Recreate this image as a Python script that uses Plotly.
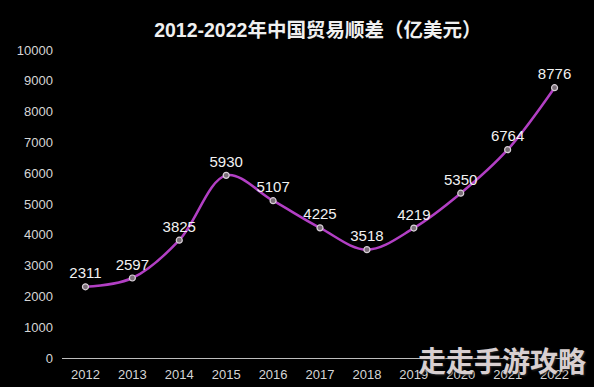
import plotly.graph_objects as go

years = ["2012", "2013", "2014", "2015", "2016", "2017", "2018", "2019", "2020", "2021", "2022"]
surplus = [2311, 2597, 3825, 5930, 5107, 4225, 3518, 4219, 5350, 6764, 8776]
y_ticks = [0, 1000, 2000, 3000, 4000, 5000, 6000, 7000, 8000, 9000, 10000]
title_text = "2012-2022年中国贸易顺差（亿美元）"
watermark = "走走手游攻略"

fig = go.Figure()
fig.add_trace(go.Scatter(
    x=years, y=surplus, mode="lines+markers+text",
    line=dict(color="#b23fc4", width=2.5, shape="spline", smoothing=1.0),
    marker=dict(size=6, color="#7a6f78", line=dict(color="#d8d0d8", width=1.2)),
    text=[str(v) for v in surplus], textposition="top center",
    textfont=dict(color="#f2f2f2", size=15, family="Liberation Sans, Arial, sans-serif"),
    cliponaxis=False, hoverinfo="skip",
))

fig.update_layout(
    width=594, height=387,
    paper_bgcolor="#000000", plot_bgcolor="#000000",
    margin=dict(l=62, r=16, t=50, b=29),
    showlegend=False,
    title=dict(text="<b>" + title_text + "</b>", x=0.535, xanchor="center", y=0.922, yanchor="middle",
               font=dict(color="#f0f0f0", size=19.5, family="Liberation Sans, Noto Sans CJK SC, sans-serif")),
    font=dict(family="Liberation Sans, Arial, sans-serif", color="#dcdcdc", size=13),
)
fig.update_xaxes(type="category", categoryorder="array", categoryarray=years,
                 range=[-0.5, 10.5], showgrid=False, showline=True, linecolor="#bdbdbd", linewidth=1,
                 ticks="", tickfont=dict(size=13, color="#d6d6d6"), zeroline=False,
                 ticklabelstandoff=4, automargin=False)
fig.update_yaxes(range=[0, 10000], tickvals=y_ticks, ticktext=[str(v) for v in y_ticks],
                 showgrid=False, showline=False, zeroline=False, automargin=False,
                 ticks="", tickfont=dict(size=13, color="#d6d6d6"), ticklabelstandoff=8)

fig.add_annotation(text="<b>" + watermark + "</b>", xref="paper", yref="paper", x=1.02, y=0.0,
                   xanchor="right", yanchor="top", yshift=20, showarrow=False,
                   font=dict(size=28, color="#d8cfd0", family="Noto Sans CJK SC, sans-serif",
                             shadow="1px 1px 2px #2a2a2a"))

fig.write_html("out.html")
